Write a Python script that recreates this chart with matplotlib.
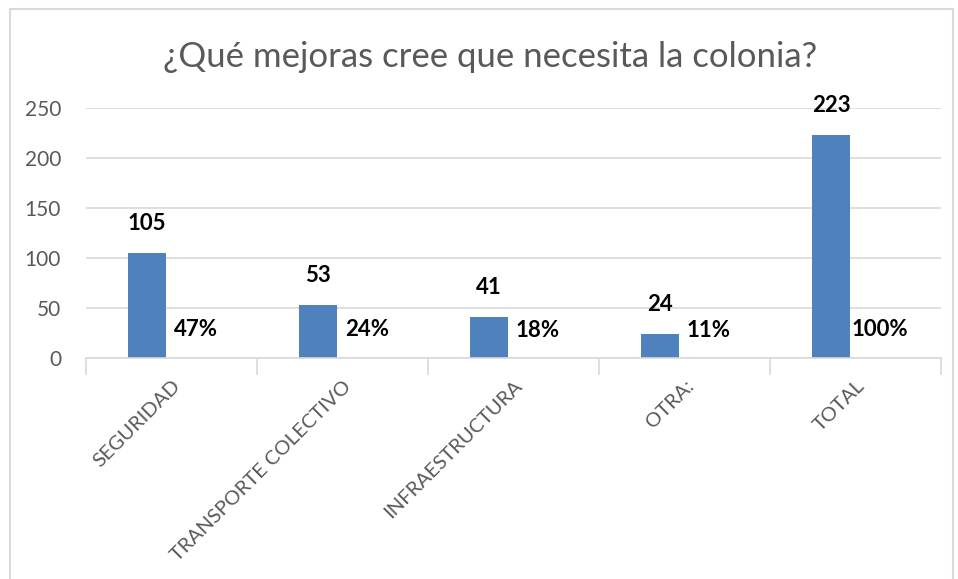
import numpy as np
import matplotlib.pyplot as plt
from matplotlib.patches import Rectangle

# Datos
categorias = ['SEGURIDAD', 'TRANSPORTE COLECTIVO', 'INFRAESTRUCTURA', 'OTRA:', 'TOTAL']
respuestas = [105, 53, 41, 24, 223]
porcentajes = [0.47, 0.24, 0.18, 0.11, 1.00]
etiquetas_pct = ['47%', '24%', '18%', '11%', '100%']

plt.rcParams['font.family'] = ['Lato', 'DejaVu Sans']

fig = plt.figure(figsize=(9.58, 5.79), dpi=100)
fig.patches.append(Rectangle((10 / 958, -0.01), 943 / 958, 1 - 9 / 579 + 0.01,
                             transform=fig.transFigure, fill=False,
                             edgecolor='#d9d9d9', linewidth=1.5))

ax = fig.add_axes([86 / 958, 1 - 358 / 579, 855 / 958, 250 / 579])

x = np.arange(len(categorias))
ancho = 0.222
ax.bar(x - 0.143, respuestas, ancho, color='#4f81bd')
ax.bar(x + 0.143, porcentajes, ancho, color='#f2d7d5')

for xi, v in zip(x, respuestas):
    ax.annotate(str(v), (xi - 0.143, v), xytext=(0, 21), textcoords='offset points',
                ha='center', va='center', fontsize=16, fontweight='bold', color='black')
for xi, v, t in zip(x, porcentajes, etiquetas_pct):
    ax.annotate(t, (xi + 0.143, v), xytext=(0, 20), textcoords='offset points',
                ha='center', va='center', fontsize=16, fontweight='bold', color='black')

ax.set_xlim(-0.5, len(categorias) - 0.5)
ax.set_ylim(0, 250)
ax.set_yticks(range(0, 251, 50))
ax.yaxis.grid(True, color='#d9d9d9', linewidth=1.2)
ax.set_axisbelow(True)
for s in ['top', 'right', 'left']:
    ax.spines[s].set_visible(False)
ax.spines['bottom'].set_color('#d9d9d9')
ax.spines['bottom'].set_linewidth(1.2)

ax.tick_params(axis='y', length=0, labelsize=15, labelcolor='#595959', pad=18)
ax.set_xticks(x)
ax.set_xticklabels(categorias, rotation=45, ha='right', va='top',
                   rotation_mode='anchor', fontsize=14.5, color='#595959')
ax.tick_params(axis='x', which='major', length=0, pad=14)
ax.set_xticks(np.arange(-0.5, len(categorias)), minor=True)
ax.tick_params(axis='x', which='minor', length=12, color='#d9d9d9', width=1.2)

fig.text(490 / 958, 1 - 57 / 579, '¿Qué mejoras cree que necesita la colonia?',
         ha='center', va='center', fontsize=25, color='#595959')

fig.savefig('out.png', dpi=100)
